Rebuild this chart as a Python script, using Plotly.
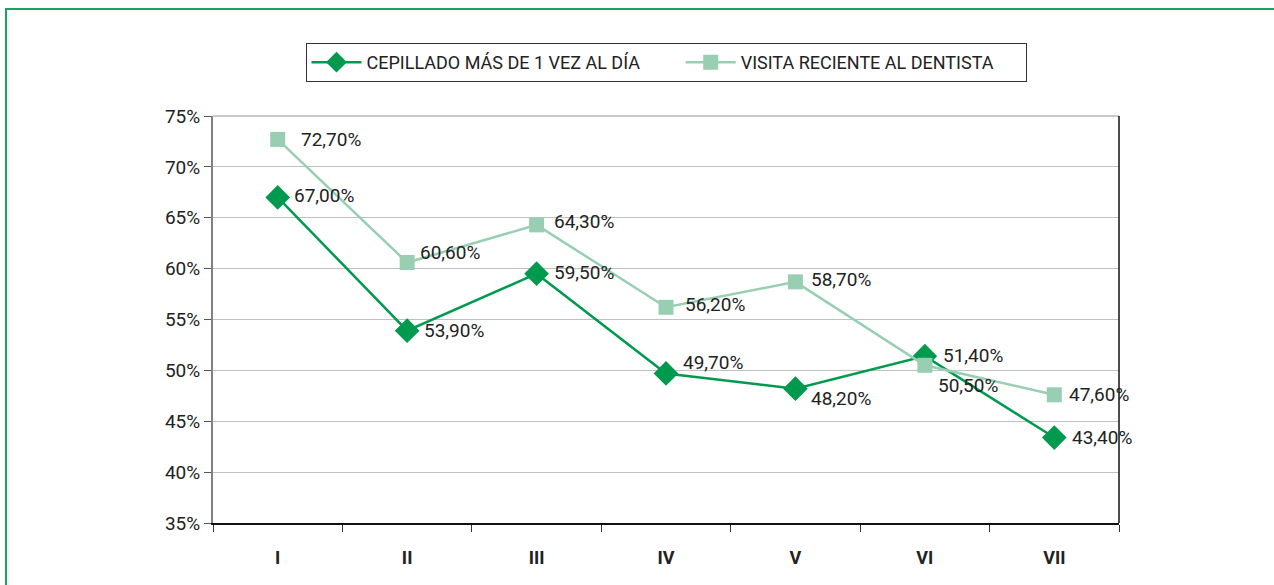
import plotly.graph_objects as go

categories = ["I", "II", "III", "IV", "V", "VI", "VII"]
cepillado = [67.0, 53.9, 59.5, 49.7, 48.2, 51.4, 43.4]
visita = [72.7, 60.6, 64.3, 56.2, 58.7, 50.5, 47.6]
cep_labels = ["67,00%", "53,90%", "59,50%", "49,70%", "48,20%", "51,40%", "43,40%"]
vis_labels = ["72,70%", "60,60%", "64,30%", "56,20%", "58,70%", "50,50%", "47,60%"]
y_ticks = [35, 40, 45, 50, 55, 60, 65, 70, 75]
y_tick_labels = ["35%", "40%", "45%", "50%", "55%", "60%", "65%", "70%", "75%"]

# label offsets (pixels) relative to each marker
cep_dx = [14, 15, 15, 15, 14, 16, 16]
cep_dy = [2, 0, 1, 11, -10, 1, 0]
vis_dx = [21, 11, 15, 17, 14, 11, 13]
vis_dy = [0, 10, 3, 3, 2, -20, 0]

FONT = "Roboto, sans-serif"
DARK = "#009a4e"
LIGHT = "#98cfb3"
TXT = "#222222"

W, H = 1274, 585
L, R, T, B = 213, 1119, 116, 523

fig = go.Figure()
fig.add_trace(go.Scatter(
    x=categories, y=cepillado, mode="lines+markers",
    name="CEPILLADO MÁS DE 1 VEZ AL DÍA" + "\u00a0" * 8,
    line=dict(color=DARK, width=2.5),
    marker=dict(symbol="diamond", size=19, color=DARK),
))
fig.add_trace(go.Scatter(
    x=categories, y=visita, mode="lines+markers",
    name="VISITA RECIENTE AL DENTISTA" + "\u00a0" * 6,
    line=dict(color=LIGHT, width=2.5),
    marker=dict(symbol="square", size=15, color=LIGHT),
))

annotations = []
for cats, vals, labs, dxs, dys in [
    (categories, cepillado, cep_labels, cep_dx, cep_dy),
    (categories, visita, vis_labels, vis_dx, vis_dy),
]:
    for c, v, t, dx, dy in zip(cats, vals, labs, dxs, dys):
        annotations.append(dict(
            x=c, y=v, xref="x", yref="y", text=t, showarrow=False,
            xanchor="left", yanchor="middle", xshift=dx, yshift=dy,
            font=dict(family=FONT, size=19, color=TXT),
        ))


def px(x):
    return (x - L) / (R - L)


def py(y):
    return (B - y) / (B - T)


fig.update_layout(
    width=W, height=H,
    margin=dict(l=L, r=W - R, t=T, b=H - B),
    paper_bgcolor="white", plot_bgcolor="white",
    font=dict(family=FONT, size=18, color=TXT),
    showlegend=True,
    legend=dict(
        orientation="h", x=0.5, xanchor="center", y=py(43), yanchor="top",
        bordercolor="#333333", borderwidth=1,
        font=dict(family=FONT, size=18, color=TXT),
        itemwidth=50, traceorder="normal",
    ),
    xaxis=dict(
        type="category", categoryorder="array", categoryarray=categories,
        tickson="boundaries", ticks="outside", ticklen=7, tickcolor="#333333",
        showline=True, linecolor="#111111", linewidth=1.5,
        showgrid=False,
        tickfont=dict(family=FONT, size=18, color=TXT, weight="bold"),
        ticklabelstandoff=18,
        range=[-0.5, 6.5],
    ),
    yaxis=dict(
        range=[35, 75], tickmode="array", tickvals=y_ticks, ticktext=y_tick_labels,
        ticks="outside", ticklen=7, tickcolor="#555555",
        showline=True, linecolor="#808080", linewidth=2,
        showgrid=True, gridcolor="#c0c0c0", gridwidth=1.2,
        zeroline=False,
        tickfont=dict(family=FONT, size=19, color=TXT),
    ),
    annotations=annotations,
    shapes=[
        dict(type="line", xref="paper", yref="paper", x0=0, x1=1, y0=1, y1=1,
             line=dict(color="#b8b8b8", width=1.5), layer="below"),
        dict(type="line", xref="paper", yref="paper", x0=1, x1=1, y0=0, y1=1,
             line=dict(color="#111111", width=1.5)),
        dict(type="rect", xref="paper", yref="paper",
             x0=px(6), x1=px(1290), y0=py(600), y1=py(9),
             line=dict(color="#1aa35c", width=2)),
    ],
)

fig.write_html(
    "out.html",
    config={"displayModeBar": False},
    post_script="document.body.style.margin='0';document.body.style.overflow='hidden';",
)
